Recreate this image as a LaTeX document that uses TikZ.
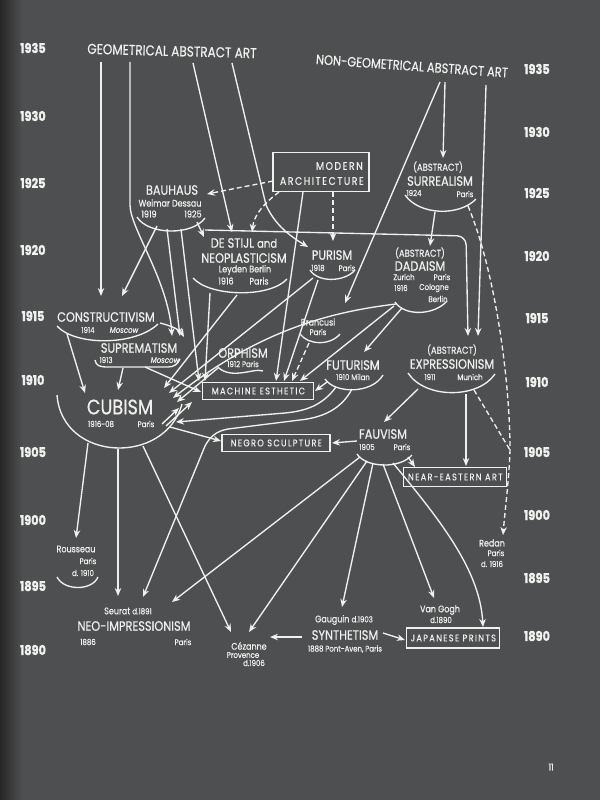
\documentclass[tikz,border=0pt]{standalone}
\usepackage{fontspec}
\newfontfamily\pf{Poppins}[FakeStretch=0.84,FakeBold=0.5]
\newfontfamily\pfy{Poppins}[FakeStretch=0.84,FakeBold=1.2]
\newfontfamily\pfs{Poppins}[FakeStretch=0.85,FakeBold=0.4,LetterSpace=14]
\usetikzlibrary{arrows.meta}
\definecolor{bg}{RGB}{78,79,81}
\definecolor{bgd}{RGB}{38,38,38}
\definecolor{ink}{RGB}{240,240,238}
\tikzset{
 mv/.style={text=ink, font=\pf\fontsize{13.5}{13.5}\selectfont, inner sep=0pt},
 ttl/.style={text=ink, font=\pf\fontsize{14.3}{14}\selectfont, inner sep=0pt},
 big/.style={text=ink, font=\pf\fontsize{21}{21}\selectfont, inner sep=0pt},
 sm/.style={text=ink, font=\pf\fontsize{8.3}{8.3}\selectfont, inner sep=0pt},
 smm/.style={text=ink, font=\pf\fontsize{9.5}{9.5}\selectfont, inner sep=0pt},
 abs/.style={text=ink, font=\pf\fontsize{10}{10}\selectfont, inner sep=0pt},
 yr/.style={text=ink, font=\pfy\bfseries\fontsize{13.5}{13.5}\selectfont, inner sep=0pt},
 bx/.style={draw=ink, line width=1.5pt, text=ink, font=\pfs\fontsize{9.6}{9.6}\selectfont, inner sep=0pt, minimum height=17pt},
 ln/.style={draw=ink, line width=1.35pt},
 ar/.style={ln, -{Stealth[length=8pt,width=6.5pt]}},
 dar/.style={ar, dash pattern=on 5pt off 3pt},
}
\begin{document}
\begin{tikzpicture}[x=1pt,y=-1pt]
\fill[bg] (0,0) rectangle (600,800);
\shade[left color=bgd, right color=bg] (0,0) rectangle (22,800);
\useasboundingbox (0,0) rectangle (600,800);

% years
\foreach \y/\t [count=\i] in {48/1935,116/1930,183/1925,250/1920,316/1915,380/1910,452/1905,520/1900,586/1895,650/1890}
  \node[yr] (yl\i) at (33,\y) {\t};
\foreach \y/\t [count=\i] in {69/1935,132/1930,193/1925,256/1920,318/1915,382/1910,452/1905,515/1900,578/1895,636/1890}
  \node[yr] (yr\i) at (537,\y) {\t};

% titles
\node[ttl,rotate=-1.5] (geo) at (172,51) {GEOMETRICAL ABSTRACT ART};
\node[ttl,rotate=-4,font=\pf\fontsize{13.6}{13}\selectfont] (ngeo) at (412,66) {NON-GEOMETRICAL ABSTRACT ART};

% boxes
\node[bx,minimum width=96pt,minimum height=39pt] (ma) at (321,172) {};
\node[text=ink,font=\pfs\fontsize{11}{11}\selectfont,inner sep=0pt,anchor=east] (ma1) at (363,166) {MODERN};
\node[text=ink,font=\pfs\fontsize{11}{11}\selectfont,inner sep=0pt,anchor=east] (ma2) at (364,181) {ARCHITECTURE};
\node[bx,minimum width=111pt] (me) at (258,391) {\hspace{0.7pt}MACHINE ESTHETIC};
\node[bx,minimum width=108pt] (ns) at (276,443) {\hspace{0.7pt}NEGRO SCULPTURE};
\node[bx,minimum width=103pt,minimum height=19pt] (nea) at (455,477) {\hspace{0.7pt}NEAR-EASTERN ART};
\node[bx,minimum width=93pt,minimum height=20pt] (jp) at (453,638) {\hspace{0.7pt}JAPANESE PRINTS};

% movements
\node[mv] (bau) at (172,190) {BAUHAUS};
\node[smm] (bau1) at (170,203) {Weimar Dessau};
\node[smm] (bau2) at (149,214) {1919};
\node[smm] (bau3) at (193,214) {1925};
\draw[ln] (137,217) .. controls (148,235) and (192,236) .. (205,218);

\node[mv] (ds) at (244,243) {DE STIJL {\fontsize{12}{12}\selectfont and}};
\node[mv] (ds1) at (244,258) {NEOPLASTICISM};
\node[smm] (ds2) at (245,270) {Leyden Berlin};
\node[smm] (ds3) at (226,281) {1916};
\node[smm] (ds4) at (259,281) {Paris};
\draw[ln] (193,278) .. controls (210,297) and (270,298) .. (287,279);

\node[mv] (pu) at (332,255) {PURISM};
\node[sm] (pu1) at (318,268) {1918};
\node[sm] (pu2) at (347,268) {Paris};
\draw[ln] (310,270) .. controls (318,283) and (345,282) .. (355,270);

\node[abs] (su0) at (438,167) {(ABSTRACT)};
\node[mv] (su) at (440,181) {SURREALISM};
\node[sm] (su1) at (414,193) {1924};
\node[sm] (su2) at (465,194) {Paris};
\draw[ln] (405,195) .. controls (420,216) and (460,216) .. (476,199);

\node[abs] (da0) at (420,253) {(ABSTRACT)};
\node[mv] (da) at (420,266) {DADAISM};
\node[sm] (da1) at (404,277) {Zurich};
\node[sm] (da2) at (442,277) {Paris};
\node[sm] (da3) at (401,288) {1916};
\node[sm] (da4) at (434,288) {Cologne};
\node[sm] (da5) at (438,299) {Berlin};
\draw[ln] (395,302) .. controls (405,317) and (435,315) .. (447,301);

\node[mv] (co) at (106,317) {CONSTRUCTIVISM};
\node[sm] (co1) at (88,330) {1914};
\node[sm] (co2) at (124,330) {\itshape Moscow};
\draw[ln] (57,326) .. controls (75,346) and (135,346) .. (158,324);

\node[mv] (sp) at (139,348) {SUPREMATISM};
\node[sm] (sp1) at (106,360) {1913};
\node[sm] (sp2) at (165,360) {\itshape Moscow};
\draw[ln] (95,360) .. controls (96,366) and (100,367) .. (108,367) -- (168,367) .. controls (174,367) and (178,364) .. (180,359);

\node[mv] (or) at (243,353) {ORPHISM};
\node[sm] (or1) at (243,364) {1912 Paris};
\draw[ln] (217,366) .. controls (222,372) and (230,374) .. (240,373) .. controls (250,372) and (258,369) .. (263,371);

\node[smm] (br) at (318,322) {Brancusi};
\node[sm] (br1) at (318,332) {Paris};
\draw[ln] (300,334) .. controls (308,345) and (330,346) .. (340,334);

\node[mv] (fu) at (353,365) {FUTURISM};
\node[sm] (fu1) at (353,377) {1910 Milan};
\draw[ln] (325,379) .. controls (335,394) and (372,394) .. (383,375);

\node[abs] (ex0) at (452,350) {(ABSTRACT)};
\node[mv] (ex) at (452,364) {EXPRESSIONISM};
\node[sm] (ex1) at (430,377) {1911};
\node[sm] (ex2) at (470,377) {Munich};
\draw[ln] (408,373) .. controls (425,399) and (478,399) .. (495,374);

\node[big] (cu) at (120,407) {CUBISM};
\node[sm] (cu1) at (101,424) {1916-08};
\node[sm] (cu2) at (146,424) {Paris};
\draw[ln] (57,395) .. controls (62,462) and (165,466) .. (182,404);

\node[mv] (fa) at (383,434) {FAUVISM};
\node[sm] (fa1) at (367,447) {1905};
\node[sm] (fa2) at (402,447) {Paris};
\draw[ln] (357,454) .. controls (366,468) and (400,469) .. (412,455);

\node[smm] (ro) at (76,549) {Rousseau};
\node[sm] (ro1) at (88,561) {Paris};
\node[sm] (ro2) at (83,573) {d. 1910};
\draw[ln] (57,577) .. controls (64,591) and (92,591) .. (98,577);

\node[smm] (rd) at (492,543) {Redan};
\node[sm] (rd1) at (496,553) {Paris};
\node[sm] (rd2) at (492,564) {d. 1916};

\node[smm] (se) at (128,611) {Seurat {\fontsize{8.3}{8.3}\selectfont d.1891}};
\node[mv] (ni) at (134,626) {NEO-IMPRESSIONISM};
\node[sm] (ni1) at (88,642) {1886};
\node[sm] (ni2) at (183,642) {Paris};

\node[smm] (cz) at (249,646) {Cézanne};
\node[sm] (cz1) at (243,655) {Provence};
\node[sm] (cz2) at (254,663) {d.1906};

\node[smm] (ga) at (344,620) {Gauguin {\fontsize{8.3}{8.3}\selectfont d.1903}};
\node[mv] (sy) at (345,635) {SYNTHETISM};
\node[sm] (sy1) at (345,649) {1888 Pont-Aven, Paris};

\node[smm] (vg) at (440,610) {Van Gogh};
\node[sm] (vg1) at (441,620) {d.1890};

\node[yr,font=\pfy\fontsize{9.5}{9.5}\selectfont] (pg) at (551,767) {11};

% connector end points
\coordinate (geoA) at (101,62);  \coordinate (coT) at (101,296);
\coordinate (geoB) at (130,62);  \coordinate (geoBk) at (130,205); \coordinate (spT1) at (172,336);
\coordinate (geoC) at (193,63);  \coordinate (dsT1) at (232,232);
\coordinate (geoD) at (232,63);  \coordinate (geoDk) at (266,205); \coordinate (puT1) at (308,247);
\coordinate (maL) at (273,181);  \coordinate (bauR) at (207,194);
\coordinate (maB1) at (279,192); \coordinate (dsT2) at (252,232);
\coordinate (maB2) at (333,192); \coordinate (puT2) at (333,241);
\coordinate (maB3) at (303,192); \coordinate (meT1) at (276,381);
\coordinate (bauA1) at (197,222); \coordinate (dsT3) at (204,237);
\coordinate (bauA2) at (205,230); \coordinate (bauK) at (466,236); \coordinate (exT1) at (468,336);
\coordinate (bauA3) at (157,226); \coordinate (coT2) at (122,296);
\coordinate (bauA4) at (167,229); \coordinate (spT2) at (180,336);
\coordinate (bauA5) at (181,229); \coordinate (meT0) at (199,381);
\coordinate (ngA) at (440,82);  \coordinate (brT) at (345,303);
\coordinate (ngB) at (445,82);  \coordinate (suT) at (443,158);
\coordinate (ngC) at (486,85);  \coordinate (exT2) at (478,336);
\coordinate (suA) at (435,212); \coordinate (daT) at (430,246);
\coordinate (suB) at (468,206); \coordinate (rdK) at (510,450); \coordinate (rdT) at (503,535);
\coordinate (exA) at (474,390);
\coordinate (dsA) at (210,293); \coordinate (meT2) at (205,381);
\coordinate (dsB) at (237,295); \coordinate (cuT1) at (164,388);
\coordinate (puA) at (318,280); \coordinate (meT3) at (284,381);
\coordinate (puB) at (313,278); \coordinate (cuT2) at (169,393);
\coordinate (brA) at (309,343); \coordinate (meT4) at (292,381);
\coordinate (daA) at (402,308); \coordinate (fuT) at (364,352);
\coordinate (daB) at (396,304); \coordinate (cuT3) at (173,398);
\coordinate (daC) at (394,306); \coordinate (meT5) at (300,381);
\coordinate (coA) at (67,334);  \coordinate (cuT4) at (85,393);
\coordinate (spA) at (123,368); \coordinate (cuT5) at (118,390);
\coordinate (coB) at (160,323); \coordinate (spT3) at (184,337);
\coordinate (spB) at (145,367); \coordinate (meL) at (201,392);
\coordinate (orA) at (218,368); \coordinate (cuT6) at (177,402);
\coordinate (cuA) at (166,426); \coordinate (meL2) at (192,402);
\coordinate (cuA2) at (162,424); \coordinate (meL3) at (179,408);
\coordinate (fuA) at (327,382); \coordinate (meR) at (315,391);
\coordinate (fuB) at (336,387); \coordinate (cuR) at (176,422);
\coordinate (fuC) at (352,389); \coordinate (niT1) at (143,597);
\coordinate (exB) at (418,389); \coordinate (faT) at (384,422);
\coordinate (exC) at (466,394); \coordinate (neaT) at (466,466);
\coordinate (cuB) at (170,427); \coordinate (nsL) at (221,441);
\coordinate (cuC) at (88,443);  \coordinate (roT) at (76,538);
\coordinate (cuD) at (118,449); \coordinate (niT2) at (118,596);
\coordinate (cuE) at (143,446); \coordinate (czT1) at (231,632);
\coordinate (faA) at (357,441); \coordinate (nsR) at (332,443);
\coordinate (faB) at (408,457); \coordinate (neaT2) at (415,467);
\coordinate (faC) at (360,457); \coordinate (niT3) at (172,602);
\coordinate (faD) at (367,461); \coordinate (czT2) at (249,632);
\coordinate (faE) at (373,463); \coordinate (gaT) at (342,607);
\coordinate (faF) at (383,464); \coordinate (vgT) at (434,598);
\coordinate (faG) at (393,463); \coordinate (jpT) at (483,627);
\coordinate (syA) at (302,637); \coordinate (czR) at (270,637);
\coordinate (syB) at (383,633); \coordinate (jpL) at (405,640);

% connectors
\draw[ar] (geoA) -- (coT);
\draw[ar] (geoB) -- (geoBk) .. controls (130,228) and (168,280) .. (spT1);
\draw[ar] (geoC) -- (dsT1);
\draw[ar] (geoD) -- (geoDk) .. controls (275,225) and (290,236) .. (puT1);
\draw[dar] (maL) -- (bauR);
\draw[dar] (maB1) .. controls (262,205) and (254,216) .. (dsT2);
\draw[dar] (maB2) -- (puT2);
\draw[ar] (maB3) -- (meT1);
\draw[ar] (bauA1) -- (dsT3);
\draw[ar,rounded corners=9pt] (bauA2) -- (bauK) -- (exT1);
\draw[ar] (bauA3) -- (coT2);
\draw[ar] (bauA4) -- (spT2);
\draw[ar] (bauA5) -- (meT0);
\draw[ar] (ngA) -- (brT);
\draw[ar] (ngB) -- (suT);
\draw[ar] (ngC) -- (exT2);
\draw[ar] (suA) -- (daT);
\draw[dar] (suB) .. controls (495,270) and (510,380) .. (rdK) .. controls (509,480) and (505,510) .. (rdT);
\draw[ln,dash pattern=on 5pt off 3pt] (exA) -- (rdK);
\draw[ar] (dsA) -- (meT2);
\draw[ar] (dsB) -- (cuT1);
\draw[ar] (puA) -- (meT3);
\draw[ar] (puB) -- (cuT2);
\draw[dar] (brA) -- (meT4);
\draw[ar] (daA) -- (fuT);
\draw[ar] (daB) .. controls (330,312) and (260,330) .. (cuT3);
\draw[ar] (daC) -- (meT5);
\draw[ar] (coA) -- (cuT4);
\draw[ar] (spA) -- (cuT5);
\draw[ar] (coB) .. controls (172,326) and (180,330) .. (spT3);
\draw[ar] (spB) -- (meL);
\draw[ar] (orA) -- (cuT6);
\draw[ar] (cuA) -- (meL2);
\draw[ar] (cuA2) -- (meL3);
\draw[ar] (fuA) -- (meR);
\draw[ar] (fuB) .. controls (322,406) and (305,411) .. (285,413) -- (cuR);
\draw[ar] (fuC) .. controls (340,412) and (318,418) .. (300,420) -- (228,429) .. controls (216,431) and (210,437) .. (205,446) -- (niT1);
\draw[ar] (exB) -- (faT);
\draw[ar] (exC) -- (neaT);
\draw[ar] (cuB) -- (nsL);
\draw[ar] (cuC) -- (roT);
\draw[ar] (cuD) -- (niT2);
\draw[ar] (cuE) -- (czT1);
\draw[ar] (faA) -- (nsR);
\draw[ar] (faB) -- (neaT2);
\draw[ar] (faC) -- (niT3);
\draw[ar] (faD) -- (czT2);
\draw[ar] (faE) -- (gaT);
\draw[ar] (faF) -- (vgT);
\draw[ar] (faG) .. controls (440,520) and (480,570) .. (jpT);
\draw[ar] (syA) -- (czR);
\draw[ar] (syB) -- (jpL);
\end{tikzpicture}
\end{document}
